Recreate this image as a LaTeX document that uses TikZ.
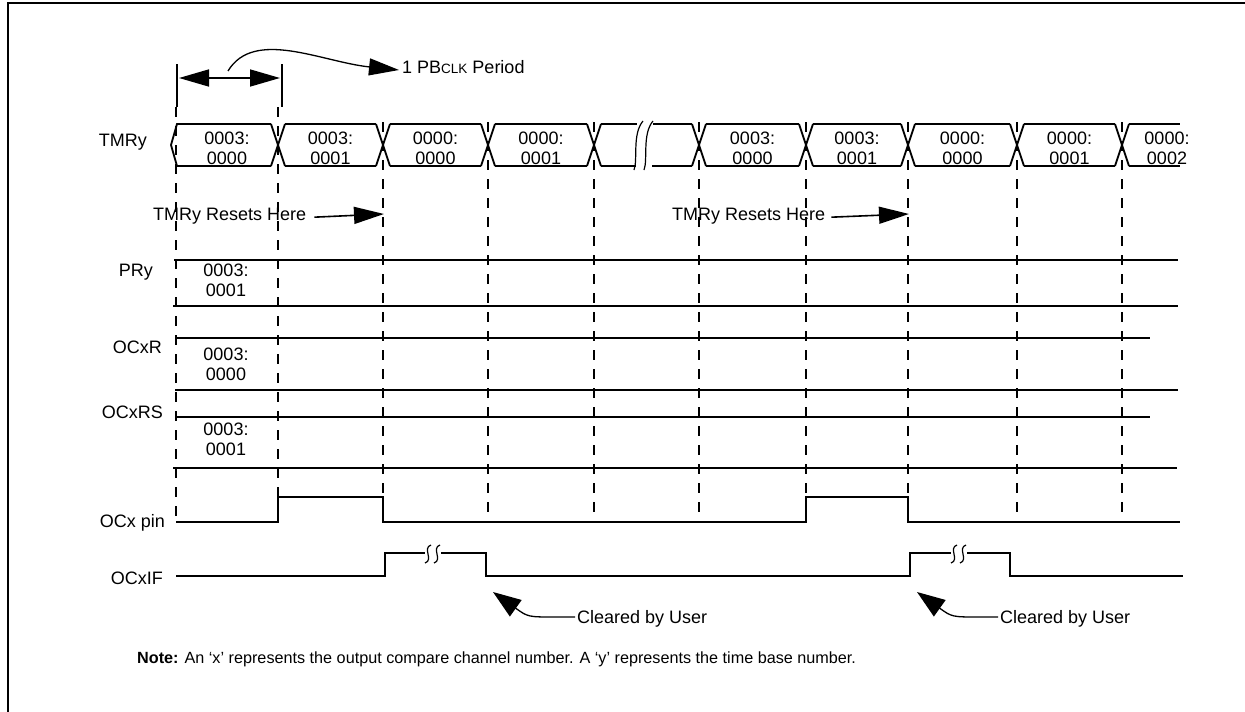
\documentclass[tikz,border=0pt]{standalone}
\usepackage{fontspec}
\setmainfont{Liberation Sans}
\usetikzlibrary{arrows.meta}
\begin{document}
\begin{tikzpicture}[x=1pt,y=-1pt,
  txt/.style={font=\fontsize{18}{19.5}\selectfont, inner sep=0pt, align=center},
  lbl/.style={font=\fontsize{18}{19.5}\selectfont, inner sep=0pt},
  notefont/.style={font=\fontsize{16.2}{19}\selectfont, inner sep=0pt},
  busline/.style={line width=1.8pt},
  sig/.style={line width=2.4pt},
  gridline/.style={line width=1.2pt, dash pattern=on 10pt off 9pt},
  bigtip/.style={line width=1.6pt, -{Triangle[length=30pt,width=17pt]}},
  dbltip/.style={line width=1.6pt, {Triangle[length=30pt,width=17pt]}-{Triangle[length=30pt,width=17pt]}},
  cleartip/.style={line width=1.3pt, -{Triangle[length=28pt,width=20pt]}},
  brk/.style={line width=1.2pt}
]
\useasboundingbox (0,0) rectangle (1245,712);
% frame
\draw[line width=2pt] (8,712) -- (8,3) -- (1245,3);

% period marker
\draw[line width=2pt] (177,64) -- (177,107);
\draw[line width=2pt] (282,64) -- (282,107);
\coordinate (pl) at (179,78);
\coordinate (pr) at (280,78);
\draw[dbltip] (pl) -- (pr);
\node[lbl, anchor=base west] (period) at (402,73) {1 PB{\fontsize{13.5}{15}\selectfont CLK} Period};
\coordinate (cs) at (228,71);
\coordinate (ce) at (399,70);
\draw[bigtip, line width=1.3pt] (cs) .. controls (254,28) and (322,62) .. (ce);

% dashed grid
\draw[gridline] (176,107) -- (176,522);
\draw[gridline] (278,107) -- (278,522);
\foreach \x in {383,488,594,699,806,908,1017,1122}
  \draw[gridline] (\x,122) -- (\x,522);

% TMRy bus
\node[lbl, anchor=base east] (lTMR) at (147,146) {TMRy};
\draw[busline] (271,124) -- (177,124) -- (171,145) -- (177,166) -- (271,166);
\foreach \c in {278,383,488,594,699,806,908,1017,1122} {
  \draw[busline] (\c-7,124) -- (\c+7,166);
  \draw[busline] (\c-7,166) -- (\c+7,124);
}
\foreach \a/\b in {278/383,383/488,488/594,699/806,806/908,908/1017,1017/1122} {
  \draw[busline] (\a+7,124) -- (\b-7,124);
  \draw[busline] (\a+7,166) -- (\b-7,166);
}
\draw[busline] (601,124) -- (637,124);
\draw[busline] (601,166) -- (636,166);
\draw[busline] (653,124) -- (692,124);
\draw[busline] (652,166) -- (692,166);
\draw[brk] (643,121) .. controls (632,134) and (638,160) .. (634,170);
\draw[brk] (653,121) .. controls (642,134) and (648,160) .. (644,170);
\draw[busline] (1129,124) -- (1180,124);
\draw[busline] (1129,166) -- (1180,166);
\foreach \c/\n/\p/\q in {227/1/0003:/0000, 330.5/2/0003:/0001, 435.5/3/0000:/0000, 541/4/0000:/0001,
  752.5/6/0003:/0000, 857/7/0003:/0001, 962.5/8/0000:/0000, 1069.5/9/0000:/0001, 1167/10/0000:/0002}
  \node[txt] (bus\n) at (\c,148.5) {\p\\\q};

% resets
\node[lbl, anchor=base west] (rst1) at (153,220.5) {TMRy Resets Here};
\coordinate (rst1tip) at (384,214);
\draw[bigtip] ([xshift=8pt,yshift=-1pt]rst1.east) -- (rst1tip);
\node[lbl, anchor=base west] (rst2) at (672,220.5) {TMRy Resets Here};
\coordinate (rst2tip) at (909,214);
\draw[bigtip] ([xshift=6pt,yshift=-1pt]rst2.east) -- (rst2tip);

% PRy
\node[lbl, anchor=base east] (lPR) at (153,276.5) {PRy};
\draw[sig] (174,260) -- (1178,260);
\draw[sig] (173,306) -- (1178,306);
\node[txt] (pr) at (226,280.5) {0003:\\0001};

% OCxR
\node[lbl, anchor=base east] (lOCR) at (162,353.5) {OCxR};
\draw[sig] (176,338) -- (1150,338);
\draw[sig] (175,390) -- (1178,390);
\node[txt] (ocr) at (226,364.5) {0003:\\0000};

% OCxRS
\node[lbl, anchor=base east] (lOCRS) at (163,418) {OCxRS};
\draw[sig] (176,417) -- (1150,417);
\draw[sig] (173,468) -- (1177,468);
\node[txt] (ocrs) at (226,439.5) {0003:\\0001};

% OCx pin
\node[lbl, anchor=base east] (lpin) at (165,527.5) {OCx pin};
\draw[sig] (176,522) -- (278,522) -- (278,497) -- (383,497) -- (383,522) -- (806,522)
  -- (806,497) -- (908,497) -- (908,522) -- (1180,522);

% OCxIF
\node[lbl, anchor=base east] (lif) at (163,584.5) {OCxIF};
\draw[sig] (176,576) -- (385,576) -- (385,553) -- (425,553);
\draw[sig] (441,553) -- (486,553) -- (486,576) -- (910,576) -- (910,553) -- (951,553);
\draw[sig] (967,553) -- (1010,553) -- (1010,576) -- (1183,576);
\foreach \cx in {428,437,954,963}
  \draw[brk] (\cx+3,545) .. controls (\cx-6,548) and (\cx+6,560) .. (\cx-3,563);

% cleared by user
\node[lbl, anchor=base west] (clr1) at (577,623.5) {Cleared by User};
\coordinate (clr1s) at (575,617);
\coordinate (clr1tip) at (493,592);
\draw[cleartip] (clr1s) -- (555,617) .. controls (528,617) .. (clr1tip);
\node[lbl, anchor=base west] (clr2) at (1000,623.5) {Cleared by User};
\coordinate (clr2s) at (998,617);
\coordinate (clr2tip) at (917,592);
\draw[cleartip] (clr2s) -- (979,617) .. controls (952,617) .. (clr2tip);

% note
\node[notefont, anchor=base west] (note) at (137,663) {\textbf{Note:} An ‘x’ represents the output compare channel number. A ‘y’ represents the time base number.};
\end{tikzpicture}
\end{document}
